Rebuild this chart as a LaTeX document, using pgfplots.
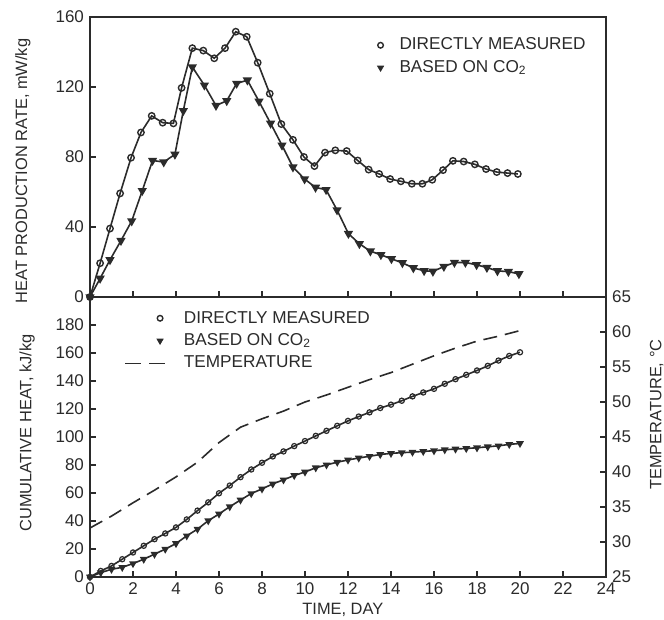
\documentclass[border=0pt]{standalone}
\usepackage{pgfplots}
\pgfplotsset{compat=1.18}
\usepackage{fontspec}
\setmainfont{Liberation Sans}
\definecolor{ink}{rgb}{0.17,0.17,0.17}
\begin{document}
\fontsize{8.5}{10}\selectfont
\begin{tikzpicture}
\pgfplotsset{
 every axis/.append style={
  scale only axis, width=258pt, height=140pt,
  xmin=0, xmax=24, xtick={0,2,...,24},
  tick align=inside, major tick length=3pt,
  axis line style={ink, line width=0.9pt},
  every tick/.style={ink, line width=0.8pt},
  tick label style={font=\fontsize{8.5}{10}\selectfont, text=ink},
  label style={font=\fontsize{8.2}{10}\selectfont, text=ink},
  /pgf/number format/assume math mode=true,
  clip=false,
 },
 dm/.style={ink, line width=0.8pt, mark=o, mark size=1.6pt, mark options={solid, line width=0.7pt}},
 co/.style={ink, line width=0.8pt, mark=triangle*, mark size=1.9pt, mark options={solid, rotate=180, fill=ink}},
 dmb/.style={ink, line width=0.8pt, mark=o, mark size=1.3pt, mark options={solid, line width=0.6pt}},
 cob/.style={ink, line width=0.8pt, mark=triangle*, mark size=1.5pt, mark options={solid, rotate=180, fill=ink}},
 rmark/.style={legend image code/.code={\path[draw=none, fill=none] (0pt,0pt) rectangle (20pt,0.1pt); \draw[##1] plot coordinates {(17.5pt,0pt)};}},
 dline/.style={legend image code/.code={\draw[##1] (0pt,0pt) -- (20pt,0pt);}},
}
% ---------------- top panel ----------------
\begin{axis}[at={(0,140pt)}, anchor=south west,
  ymin=0, ymax=160, ytick={0,40,...,160},
  xticklabels={}, ytick pos=left, xtick pos=bottom,
  ylabel={HEAT PRODUCTION RATE, mW/kg},
  ylabel style={at={(axis description cs:-0.13,0.45)}, anchor=center},
  legend style={at={(axis description cs:0.545,0.955)}, anchor=north west, draw=none, fill=none,
    font=\fontsize{8.6}{10}\selectfont, text=ink, row sep=0pt, column sep=6pt},
  legend cell align=left]
\addplot[dm, forget plot] coordinates {
(0,0) (0.47,19.3) (0.93,39.1) (1.4,59.2) (1.91,79.6) (2.37,94) (2.87,103.5) (3.38,99.6)
(3.88,99.2) (4.26,119.5) (4.76,142.2) (5.27,140.8) (5.78,136.4) (6.28,142.2) (6.78,151.6)
(7.29,148.7) (7.8,133.9) (8.36,116.2) (8.9,98.8) (9.44,89.8) (9.95,80) (10.44,74.8)
(10.93,82.5) (11.41,83.8) (11.94,83.4) (12.45,78) (12.96,72.8) (13.45,70.3) (13.96,67.4)
(14.46,66.1) (14.97,64.7) (15.46,64.7) (15.92,67) (16.42,72.5) (16.88,77.8) (17.38,77.4)
(17.9,75.8) (18.42,73.1) (18.92,71.4) (19.42,70.8) (19.9,70.3)};
\addplot[co, forget plot] coordinates {
(0,0) (0.47,10.6) (0.93,21.2) (1.44,32.2) (1.94,43.4) (2.43,60.7) (2.91,78) (3.43,77.1)
(3.95,81.5) (4.34,106.4) (4.76,131.4) (5.32,121) (5.86,109.4) (6.36,112.1) (6.82,122)
(7.32,123.9) (7.86,111.8) (8.4,99.2) (8.93,86.7) (9.44,74.2) (9.98,67.4) (10.49,62.6)
(10.98,61.3) (11.49,49.7) (12.02,36.2) (12.53,30.4) (13.04,26.2) (13.53,24.1) (14.02,21.8)
(14.53,19.5) (15.04,16.6) (15.54,15) (15.95,14.6) (16.46,17.4) (16.95,19.7) (17.46,19.7)
(17.98,18.4) (18.46,16.8) (18.95,14.9) (19.46,14.5) (19.95,13.2)};
\addlegendimage{only marks, ink, mark=o, mark size=1.4pt, mark options={line width=0.7pt}}
\addlegendentry{DIRECTLY MEASURED}
\addlegendimage{only marks, ink, mark=triangle*, mark size=1.7pt, mark options={rotate=180, fill=ink}}
\addlegendentry{BASED ON CO\textsubscript{2}}
\end{axis}
% ---------------- bottom panel ----------------
\begin{axis}[at={(0,0)}, anchor=south west,
  ymin=0, ymax=200, ytick={0,20,...,180},
  ytick pos=left, xtick pos=bottom,
  xlabel={TIME, DAY},
  xlabel style={at={(axis description cs:0.49,-0.118)}, anchor=center},
  ylabel={CUMULATIVE HEAT, kJ/kg},
  ylabel style={at={(axis description cs:-0.122,0.514)}, anchor=center},
  legend style={at={(axis description cs:0.054,0.98)}, anchor=north west, draw=none, fill=none,
    font=\fontsize{8.6}{10}\selectfont, text=ink, row sep=0pt, column sep=7pt},
  legend cell align=left]
\addplot[dmb, forget plot] coordinates {
(0,0) (0.5,4.3) (1,7.9) (1.5,12.7) (2,17.5) (2.5,22.3) (3,27) (3.5,31.1) (4,35.4)
(4.5,41.1) (5,47.4) (5.5,53.3) (6,59.8) (6.5,65.3) (7,71.3) (7.5,76.8) (8,81.6)
(8.5,86.1) (9,89.7) (9.5,93.5) (10,97.1) (10.5,100.8) (11,104.4) (11.5,108) (12,111.5)
(12.5,114.6) (13,117.6) (13.5,120.7) (14,123.1) (14.5,125.9) (15,129) (15.5,131.8)
(16,134.4) (16.5,138) (17,141.3) (17.5,144.4) (18,147.5) (18.5,150.8) (19,154.6)
(19.5,157.9) (20,160.5)};
\addplot[cob, forget plot] coordinates {
(0,0) (0.5,3.1) (1,5.5) (1.5,6.9) (2,9.6) (2.5,12.7) (3,16.3) (3.5,19.9) (4,23.9)
(4.5,29.4) (5,34.2) (5.5,40.2) (6,45) (6.5,50.2) (7,55) (7.5,59.6) (8,62.9) (8.5,66.5)
(9,69.4) (9.5,72.5) (10,75) (10.5,78) (11,80.1) (11.5,82) (12,83.6) (12.5,85) (13,86.2)
(13.5,87.5) (14,88.3) (14.5,88.8) (15,89.2) (15.5,89.7) (16,90.2) (16.5,90.9) (17,91.4)
(17.5,91.8) (18,92.3) (18.5,93) (19,93.7) (19.5,94.7) (20,95.4)};
\addlegendimage{rmark, only marks, ink, mark=o, mark size=1.4pt, mark options={line width=0.7pt}}
\addlegendentry{DIRECTLY MEASURED}
\addlegendimage{rmark, only marks, ink, mark=triangle*, mark size=1.7pt, mark options={rotate=180, fill=ink}}
\addlegendentry{BASED ON CO\textsubscript{2}}
\addlegendimage{dline, ink, line width=0.8pt, dash pattern=on 8pt off 4pt}
\addlegendentry{TEMPERATURE}
\end{axis}
% ---------------- temperature axis ----------------
\begin{axis}[at={(0,0)}, anchor=south west,
  ymin=25, ymax=65, ytick={25,30,...,65},
  axis y line*=right, axis x line=none,
  ylabel={TEMPERATURE, °C},
  ylabel style={at={(axis description cs:1.098,0.58)}, anchor=center}]
\addplot[ink, line width=0.8pt, dash pattern=on 7pt off 4pt] coordinates {
(0,32) (1,33.7) (2,35.6) (3,37.4) (4,39.3) (5,41.4) (6,44.2) (7,46.4) (8,47.6) (9,48.7)
(10,50) (11,51) (12,52.1) (13,53.2) (14,54.2) (15,55.4) (16,56.6) (17,57.7) (18,58.7)
(19,59.4) (20,60.2)};
\end{axis}
\pgfresetboundingbox
\path[use as bounding box] (-45pt,-21.5pt) rectangle (287pt,288.5pt);
\end{tikzpicture}
\end{document}
